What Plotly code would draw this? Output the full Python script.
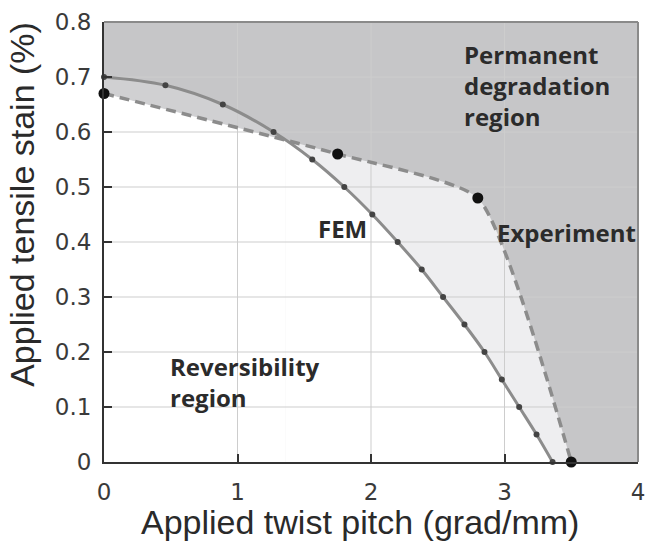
import numpy as np
import plotly.graph_objects as go

# FEM prediction (twist pitch vs. tensile strain limit)
fem_x = [0.0, 0.46, 0.89, 1.27, 1.56, 1.80, 2.01, 2.20, 2.38, 2.54, 2.70, 2.85, 2.98, 3.11, 3.24, 3.36]
fem_y = [0.70, 0.685, 0.65, 0.60, 0.55, 0.50, 0.45, 0.40, 0.35, 0.30, 0.25, 0.20, 0.15, 0.10, 0.05, 0.0]

# Experimental limit
exp_x = [0.0, 1.75, 2.80, 3.50]
exp_y = [0.67, 0.56, 0.48, 0.0]

x_ticks = [0, 1, 2, 3, 4]
y_ticks = [0, 0.1, 0.2, 0.3, 0.4, 0.5, 0.6, 0.7, 0.8]

DARK = "#c6c6c8"
MID = "#d0d0d2"
LIGHT = "#eeeef0"
GRID = "#cdcdcd"
LINE = "#8c8c8c"

# Where the two limit curves cross (FEM drops below the experiment)
xs = np.linspace(0, fem_x[-1], 4000)
diff = np.interp(xs, fem_x, fem_y) - np.interp(xs, exp_x, exp_y)
i = np.where(np.diff(np.sign(diff)) != 0)[0][0]
xc = float(xs[i])
yc = float(np.interp(xc, exp_x, exp_y))

fig = go.Figure()

# Band between the curves where FEM lies above the experiment
fig.add_trace(go.Scatter(x=fem_x, y=fem_y, mode="lines", line=dict(width=0, shape="spline"),
                         fill="tozeroy", fillcolor=MID, hoverinfo="skip", showlegend=False))
# Region under the experimental limit
fig.add_trace(go.Scatter(x=exp_x, y=exp_y, mode="lines",
                         line=dict(width=0, shape="spline", smoothing=0.5),
                         fill="tozeroy", fillcolor=LIGHT, hoverinfo="skip", showlegend=False))
# Reversibility region: below both curves
low_exp_x = [x for x in exp_x if x < xc] + [xc]
low_exp_y = [y for x, y in zip(exp_x, exp_y) if x < xc] + [yc]
fig.add_trace(go.Scatter(x=low_exp_x, y=low_exp_y, mode="lines", line=dict(width=0),
                         fill="tozeroy", fillcolor="white", hoverinfo="skip", showlegend=False))
low_fem_x = [xc] + [x for x in fem_x if x > xc]
low_fem_y = [yc] + [y for x, y in zip(fem_x, fem_y) if x > xc]
fig.add_trace(go.Scatter(x=low_fem_x, y=low_fem_y, mode="lines", line=dict(width=0, shape="spline"),
                         fill="tozeroy", fillcolor="white", hoverinfo="skip", showlegend=False))

# Grid drawn over the shaded regions
gx, gy = [], []
for t in x_ticks[1:-1]:
    gx += [t, t, None]
    gy += [y_ticks[0], y_ticks[-1], None]
for t in y_ticks[1:-1]:
    gx += [x_ticks[0], x_ticks[-1], None]
    gy += [t, t, None]
fig.add_trace(go.Scatter(x=gx, y=gy, mode="lines", line=dict(color=GRID, width=1),
                         hoverinfo="skip", showlegend=False))

# FEM curve
fig.add_trace(go.Scatter(x=fem_x, y=fem_y, mode="lines+markers",
                         line=dict(color=LINE, width=3, shape="spline"),
                         marker=dict(color="#444444", size=6),
                         cliponaxis=False, showlegend=False, name="FEM"))
# Experimental curve
fig.add_trace(go.Scatter(x=exp_x, y=exp_y, mode="lines+markers",
                         line=dict(color=LINE, width=3.5, dash="10px,6px", shape="spline", smoothing=0.5),
                         marker=dict(color="#111111", size=11),
                         cliponaxis=False, showlegend=False, name="Experiment"))

label_font = dict(family="Open Sans", size=24, color="#2b2b2b", weight="bold")
fig.add_annotation(x=2.68, y=0.684, text="Permanent<br>degradation<br>region", showarrow=False,
                   xanchor="left", yanchor="middle", align="left", font=label_font)
fig.add_annotation(x=1.59, y=0.425, text="FEM", showarrow=False,
                   xanchor="left", yanchor="middle", font=label_font)
fig.add_annotation(x=2.93, y=0.418, text="Experiment", showarrow=False,
                   xanchor="left", yanchor="middle", font=label_font)
fig.add_annotation(x=0.48, y=0.146, text="Reversibility<br>region", showarrow=False,
                   xanchor="left", yanchor="middle", align="left", font=label_font)

title_font = dict(family="Liberation Sans, Arial", size=34, color="#2a2a2a")
fig.add_annotation(xref="paper", yref="paper", x=0.48, y=-0.136, text="Applied twist pitch (grad/mm)",
                   showarrow=False, xanchor="center", yanchor="middle", font=title_font)
fig.add_annotation(xref="paper", yref="paper", x=-0.155, y=0.585, text="Applied tensile stain (%)",
                   showarrow=False, textangle=-90, xanchor="center", yanchor="middle", font=title_font)

# Top and right frame
fig.add_shape(type="line", xref="paper", yref="paper", x0=0, x1=1, y0=1, y1=1,
              line=dict(color="#8a8a8a", width=2))
fig.add_shape(type="line", xref="paper", yref="paper", x0=1, x1=1, y0=0, y1=1,
              line=dict(color="#8a8a8a", width=2))

tick_font = dict(family="DejaVu Sans", size=23, color="#3a3a3a")
fig.update_xaxes(range=[0, 4], tickvals=x_ticks, ticktext=[str(t) for t in x_ticks],
                 showgrid=False, zeroline=False, showline=True, linecolor="#333333", linewidth=2,
                 ticks="inside", ticklen=8, tickwidth=2, tickcolor="#333333", automargin=False,
                 tickfont=tick_font, layer="above traces", ticklabelstandoff=8,
                 ticklabeloverflow="allow")
fig.update_yaxes(range=[0, 0.8], tickvals=y_ticks, ticktext=["0"] + [f"{t:.1f}" for t in y_ticks[1:]],
                 showgrid=False, zeroline=False, showline=True, linecolor="#333333", linewidth=2,
                 ticks="inside", ticklen=8, tickwidth=2, tickcolor="#333333", automargin=False,
                 tickfont=tick_font, layer="above traces", ticklabelstandoff=6,
                 ticklabeloverflow="allow")

fig.update_layout(width=646, height=542, margin=dict(l=104, r=8, t=22, b=80),
                  plot_bgcolor=DARK, paper_bgcolor="white", showlegend=False)

fig.write_html("out.html")
